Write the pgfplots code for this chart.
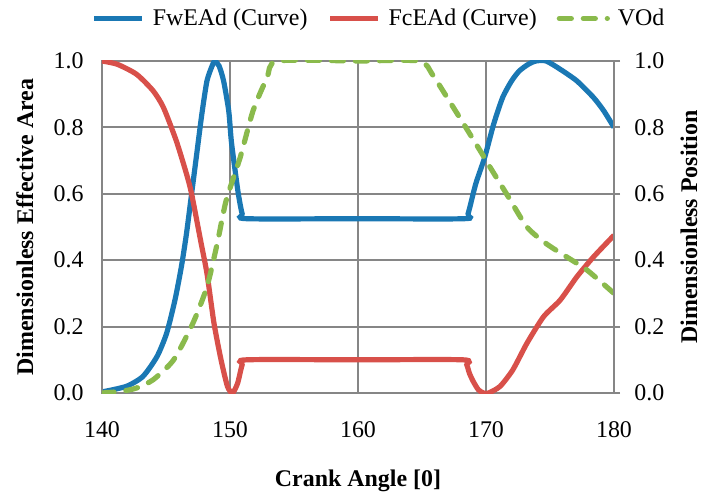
\documentclass[border=0pt,12pt]{standalone}
\usepackage{fontspec}
\setmainfont{Liberation Serif}
\usepackage{pgfplots}
\pgfplotsset{compat=1.18}

\definecolor{cblue}{RGB}{26,120,180}
\definecolor{cred}{RGB}{216,80,74}
\definecolor{cgreen}{RGB}{138,186,76}
\definecolor{cgrid}{RGB}{134,134,134}

\pgfplotsset{
  common/.style={
    width=256bp, height=166bp, scale only axis,
    xmin=140, xmax=180, ymin=0, ymax=1,
    /pgf/number format/assume math mode=true,
    tick label style={font=\fontsize{12}{14}\selectfont},
    label style={font=\fontsize{12}{14}\selectfont\bfseries},
    axis line style={draw=cgrid, line width=1bp},
    tick style={draw=cgrid, line width=1bp},
    ytick={0,0.2,...,1.01},
    yticklabel style={/pgf/number format/fixed, /pgf/number format/fixed zerofill,
      /pgf/number format/precision=1},
  }
}

\begin{document}
\begin{tikzpicture}
\useasboundingbox (-51bp,-50bp) rectangle (302.5bp,196.5bp);
\begin{axis}[common,
  xtick={140,150,...,180},
  grid=major, grid style={draw=cgrid, line width=1bp},
  major tick length=0pt,
  xticklabel style={yshift=-10bp},
  yticklabel style={xshift=-5bp},
  xlabel={Crank Angle [0]},
  ylabel={Dimensionless Effective Area},
  xlabel style={yshift=-8bp},
  ylabel style={yshift=2bp},
  legend columns=3,
  legend style={at={(0.5,1)}, anchor=south, xshift=11bp, yshift=12bp, draw=none, fill=none,
    font=\fontsize{12}{14}\selectfont, column sep=2bp},
  /tikz/every even column/.append style={column sep=8bp},
  legend image code/.code={\draw[#1] (0bp,0bp) -- (24bp,0bp);},
]
\addplot[cblue, line width=2.6bp, smooth, tension=0.4] coordinates {
(140.1,0.004) (141.9,0.02) (143.2,0.05) (144.3,0.11) (145.05,0.18) (145.7,0.28)
(146.2,0.38) (146.6,0.48) (147.0,0.60) (147.4,0.72) (147.8,0.84) (148.2,0.94)
(148.6,0.985) (148.8,1.0) (149.15,0.985) (149.5,0.94) (149.9,0.85) (150.1,0.76)
(150.4,0.67) (150.65,0.60) (150.95,0.54) (151.3,0.525) (160,0.525) (168.3,0.525)
(168.6,0.54) (169.2,0.63) (169.9,0.71) (170.6,0.81) (171.3,0.89) (172.0,0.94)
(172.6,0.97) (173.3,0.99) (173.9,1.0) (174.7,1.0) (175.8,0.975) (177.1,0.94)
(178.4,0.89) (179.2,0.85) (180,0.80)
};
\addlegendentry{FwEAd (Curve)}
\addplot[cred, line width=2.6bp, smooth, tension=0.4] coordinates {
(140,1.0) (141.2,0.99) (142.7,0.96) (144.0,0.91) (144.8,0.86) (145.8,0.76)
(146.6,0.66) (147.0,0.60) (147.7,0.46) (148.2,0.36) (148.75,0.21) (149.3,0.10)
(149.8,0.02) (150.2,0.0) (150.6,0.03) (150.95,0.085) (151.3,0.10) (160,0.10)
(168.2,0.10) (168.5,0.085) (168.7,0.06) (169.0,0.035) (169.4,0.01) (169.8,0.0)
(170.2,0.0) (171.1,0.02) (172.1,0.07) (173.2,0.15) (174.5,0.23) (175.8,0.28)
(177.1,0.35) (178.4,0.41) (180,0.475)
};
\addlegendentry{FcEAd (Curve)}
\addplot[cgreen, line width=2.6bp, line cap=round, dash pattern=on 6bp off 6bp, smooth, tension=0.4] coordinates {
(140,0.0) (141.5,0.005) (142.7,0.015) (144.0,0.04) (145.6,0.10) (147.1,0.21)
(148.2,0.32) (149.0,0.45) (149.7,0.58) (150.8,0.71) (151.8,0.85) (152.9,0.95)
(153.7,1.0) (160,1.0) (164.8,1.0) (165.8,0.96) (166.8,0.90) (168.1,0.82)
(169.7,0.72) (170.0,0.70) (171.6,0.60) (173.2,0.50) (174.7,0.45) (176.3,0.41)
(177.9,0.37) (180,0.30)
};
\addlegendentry{VOd}
\end{axis}
\begin{axis}[common,
  axis x line=none, axis y line*=right,
  ytick pos=right, tick align=outside, major tick length=3bp,
  yticklabel style={xshift=3bp},
  ylabel={Dimensionless Position},
  ylabel style={yshift=0bp},
]
\addplot[draw=none] coordinates {(140,0) (180,1)};
\end{axis}
\end{tikzpicture}
\end{document}
